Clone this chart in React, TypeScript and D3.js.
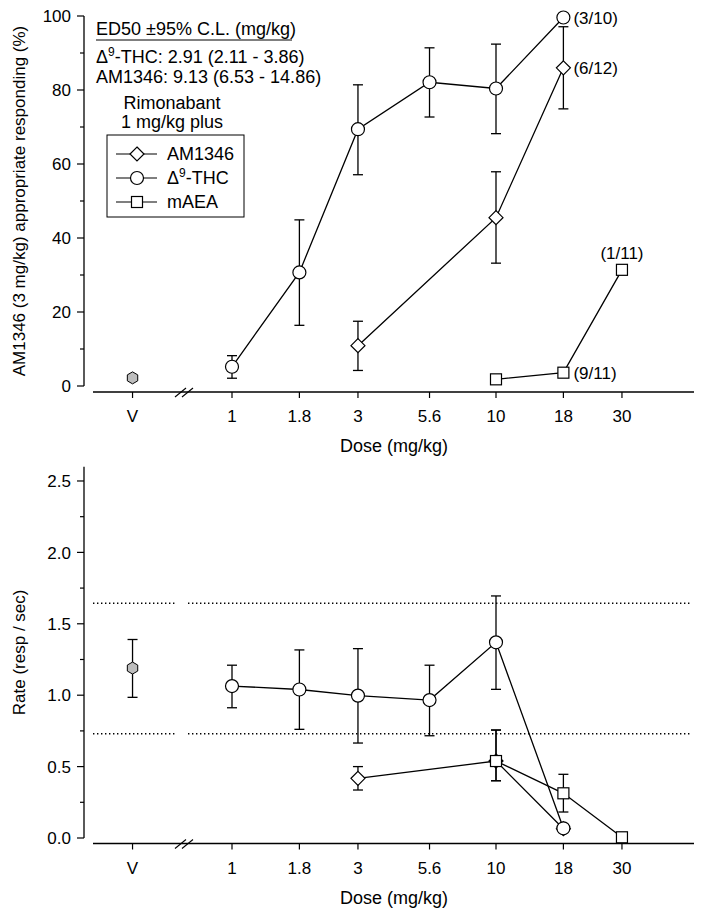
import React from "react";
import * as d3 from "d3";

// ---------- DATA ----------
const doseTicks = [1, 1.8, 3, 5.6, 10, 18, 30];
const doseTickLabels = ["1", "1.8", "3", "5.6", "10", "18", "30"];
const vehicleLabel = "V";

// Top panel: % AM1346-appropriate responding
const vehPct = { mean: 2.2, lo: 2.2, hi: 2.2 };
const thcDoses = [1, 1.8, 3, 5.6, 10, 18];
const thcPct = [5.2, 30.7, 69.4, 82.1, 80.4, 99.6];
const thcPctLo = [2.1, 16.4, 57.1, 72.7, 68.2, 99.6];
const thcPctHi = [8.2, 44.9, 81.4, 91.4, 92.4, 99.6];

const amDoses = [3, 10, 18];
const amPct = [10.9, 45.5, 86.0];
const amPctLo = [4.2, 33.2, 74.9];
const amPctHi = [17.5, 57.9, 97.1];

const maeaDoses = [10, 18, 30];
const maeaPct = [1.8, 3.6, 31.4];
const maeaPctLo = [1.8, 2.4, 31.4];
const maeaPctHi = [1.8, 4.8, 31.4];

// Bottom panel: rate (resp/sec)
const vehRate = { mean: 1.19, lo: 0.985, hi: 1.39 };
const thcRate = [1.064, 1.04, 0.997, 0.966, 1.37, 0.068];
const thcRateLo = [0.912, 0.761, 0.665, 0.716, 1.041, 0.068];
const thcRateHi = [1.21, 1.317, 1.326, 1.21, 1.695, 0.068];

const amRate = [0.418, 0.539, 0.065];
const amRateLo = [0.336, 0.401, 0.065];
const amRateHi = [0.5, 0.756, 0.065];

const maeaRate = [0.539, 0.313, 0.005];
const maeaRateLo = [0.401, 0.182, 0.005];
const maeaRateHi = [0.756, 0.446, 0.005];

const rateRefLines = [1.644, 0.73];

const annotations = [
  { dose: 18, value: 99.6, text: "(3/10)", pos: "right" },
  { dose: 18, value: 86.0, text: "(6/12)", pos: "right" },
  { dose: 18, value: 3.6, text: "(9/11)", pos: "right" },
  { dose: 30, value: 31.4, text: "(1/11)", pos: "above" },
];

const pctTicks = [0, 20, 40, 60, 80, 100];
const pctMinor = [10, 30, 50, 70, 90];
const rateTicks = [0, 0.5, 1.0, 1.5, 2.0, 2.5];
const rateMinor = [0.25, 0.75, 1.25, 1.75, 2.25];

// ---------- LAYOUT ----------
const FONT = "'Liberation Sans', Arial, Helvetica, sans-serif";
const AX_X = 84;
const VEH_DOSE = 0.42; // display position of vehicle on the log axis
const TICK_FS = 17;
const TEXT_FS = 18;

const xScale = d3.scaleLog().domain([1, 10]).range([232, 496]);
const xPos = (d: number | "V") => (d === "V" ? xScale(VEH_DOSE) : xScale(d));

const yTop = d3.scaleLinear().domain([0, 100]).range([386, 16]);
const yBot = d3.scaleLinear().domain([0, 2.6]).range([838, 466.7]);

type Series = {
  doses: number[];
  mean: number[];
  lo: number[];
  hi: number[];
  marker: "circle" | "diamond" | "square";
};

function Marker({ type, x, y, fill = "#fff" }: { type: string; x: number; y: number; fill?: string }) {
  if (type === "circle") return <circle cx={x} cy={y} r={6.5} fill={fill} stroke="#000" strokeWidth={1.2} />;
  if (type === "diamond") {
    const r = 7;
    return (
      <path
        d={`M${x},${y - r}L${x + r},${y}L${x},${y + r}L${x - r},${y}Z`}
        fill={fill}
        stroke="#000"
        strokeWidth={1.2}
      />
    );
  }
  if (type === "square") {
    const s = 5.5;
    return <rect x={x - s} y={y - s} width={2 * s} height={2 * s} fill={fill} stroke="#000" strokeWidth={1.2} />;
  }
  if (type === "hex") {
    const r = 6;
    const pts = d3.range(6).map((k) => {
      const a = ((-90 + 60 * k) * Math.PI) / 180;
      return [x + r * Math.cos(a), y + r * Math.sin(a)];
    });
    return <polygon points={pts.map((p) => p.join(",")).join(" ")} fill="#bdbdbd" stroke="#000" strokeWidth={1} />;
  }
  return null;
}

function ErrBar({ x, y1, y2 }: { x: number; y1: number; y2: number }) {
  if (Math.abs(y1 - y2) < 0.5) return null;
  const c = 5;
  return (
    <g stroke="#000" strokeWidth={1.3}>
      <line x1={x} x2={x} y1={y1} y2={y2} />
      <line x1={x - c} x2={x + c} y1={y1} y2={y1} />
      <line x1={x - c} x2={x + c} y1={y2} y2={y2} />
    </g>
  );
}

function Panel({
  y,
  series,
  veh,
  ticks,
  minor,
  fmt,
  axisY,
  title,
}: {
  y: d3.ScaleLinear<number, number>;
  series: Series[];
  veh: { mean: number; lo: number; hi: number };
  ticks: number[];
  minor: number[];
  fmt: (v: number) => string;
  axisY: number;
  title: string;
}) {
  const [yMin, yMax] = y.domain();
  const line = d3
    .line<[number, number]>()
    .x((d) => xScale(d[0]))
    .y((d) => y(d[1]));
  return (
    <g>
      {/* y axis */}
      <line x1={AX_X} x2={AX_X} y1={y(yMax)} y2={y(yMin)} stroke="#000" strokeWidth={1.3} />
      {ticks.map((t) => (
        <g key={"t" + t}>
          <line x1={AX_X - 7} x2={AX_X} y1={y(t)} y2={y(t)} stroke="#000" strokeWidth={1.2} />
          <text x={71} y={y(t)} dy="0.36em" textAnchor="end" fontSize={TICK_FS} fontFamily={FONT}>
            {fmt(t)}
          </text>
        </g>
      ))}
      {minor.map((t) => (
        <line key={"m" + t} x1={AX_X - 4} x2={AX_X} y1={y(t)} y2={y(t)} stroke="#000" strokeWidth={1.2} />
      ))}
      {/* x axis */}
      <line x1={93} x2={694} y1={axisY} y2={axisY} stroke="#000" strokeWidth={1.3} />
      <g stroke="#000" strokeWidth={1.1}>
        <line x1={175} y1={axisY + 5} x2={186} y2={axisY - 4} />
        <line x1={182} y1={axisY + 5} x2={193} y2={axisY - 4} />
      </g>
      {[...doseTicks.map((d) => xPos(d)), xPos("V")].map((x, i) => (
        <line key={"xt" + i} x1={x} x2={x} y1={axisY} y2={axisY + 6} stroke="#000" strokeWidth={1.2} />
      ))}
      <text x={xPos("V")} y={axisY + 24} dy="0.36em" textAnchor="middle" fontSize={TICK_FS} fontFamily={FONT}>
        {vehicleLabel}
      </text>
      {doseTicks.map((d, i) => (
        <text
          key={"xl" + d}
          x={xPos(d)}
          y={axisY + 24}
          dy="0.36em"
          textAnchor="middle"
          fontSize={TICK_FS}
          fontFamily={FONT}
        >
          {doseTickLabels[i]}
        </text>
      ))}
      <text x={394} y={axisY + 54} dy="0.36em" textAnchor="middle" fontSize={TEXT_FS} fontFamily={FONT}>
        Dose (mg/kg)
      </text>
      <text
        transform={`translate(19,${(y(yMax) + y(yMin)) / 2}) rotate(-90)`}
        textAnchor="middle"
        dy="0.36em"
        fontSize={TICK_FS}
        fontFamily={FONT}
      >
        {title}
      </text>
      {/* vehicle */}
      <ErrBar x={xPos("V")} y1={y(veh.hi)} y2={y(veh.lo)} />
      <Marker type="hex" x={xPos("V")} y={y(veh.mean)} />
      {/* series lines */}
      {series.map((s, i) => (
        <path
          key={"l" + i}
          d={line(s.doses.map((d, j) => [d, s.mean[j]] as [number, number])) || ""}
          fill="none"
          stroke="#000"
          strokeWidth={1.3}
        />
      ))}
      {series.map((s, i) => (
        <g key={"e" + i}>
          {s.doses.map((d, j) => (
            <ErrBar key={j} x={xScale(d)} y1={y(s.hi[j])} y2={y(s.lo[j])} />
          ))}
        </g>
      ))}
      {series.map((s, i) => (
        <g key={"mk" + i}>
          {s.doses.map((d, j) => (
            <Marker key={j} type={s.marker} x={xScale(d)} y={y(s.mean[j])} />
          ))}
        </g>
      ))}
    </g>
  );
}

function Dotted({ y }: { y: number }) {
  return (
    <g stroke="#000" strokeWidth={1.4} strokeDasharray="1.4,2.6">
      <line x1={93} x2={176} y1={y} y2={y} />
      <line x1={188} x2={692} y1={y} y2={y} />
    </g>
  );
}

export default function App() {
  const topSeries: Series[] = [
    { doses: amDoses, mean: amPct, lo: amPctLo, hi: amPctHi, marker: "diamond" },
    { doses: thcDoses, mean: thcPct, lo: thcPctLo, hi: thcPctHi, marker: "circle" },
    { doses: maeaDoses, mean: maeaPct, lo: maeaPctLo, hi: maeaPctHi, marker: "square" },
  ];
  const botSeries: Series[] = [
    { doses: amDoses, mean: amRate, lo: amRateLo, hi: amRateHi, marker: "diamond" },
    { doses: thcDoses, mean: thcRate, lo: thcRateLo, hi: thcRateHi, marker: "circle" },
    { doses: maeaDoses, mean: maeaRate, lo: maeaRateLo, hi: maeaRateHi, marker: "square" },
  ];
  const legendItems = [
    { marker: "diamond", label: <tspan>AM1346</tspan> },
    {
      marker: "circle",
      label: (
        <>
          <tspan>Δ</tspan>
          <tspan dy={-7} fontSize={12}>9</tspan>
          <tspan dy={7}>-THC</tspan>
        </>
      ),
    },
    { marker: "square", label: <tspan>mAEA</tspan> },
  ];
  return (
    <svg width={704} height={916} style={{ position: "absolute", left: 0, top: 0, background: "#fff" }}>
      <rect width={704} height={916} fill="#fff" />
      {rateRefLines.map((v) => (
        <Dotted key={v} y={yBot(v)} />
      ))}
      <Panel
        y={yTop}
        series={topSeries}
        veh={vehPct}
        ticks={pctTicks}
        minor={pctMinor}
        fmt={(v) => String(v)}
        axisY={392}
        title="AM1346 (3 mg/kg) appropriate responding (%)"
      />
      <Panel
        y={yBot}
        series={botSeries}
        veh={vehRate}
        ticks={rateTicks}
        minor={rateMinor}
        fmt={(v) => v.toFixed(1)}
        axisY={843.5}
        title="Rate (resp / sec)"
      />
      {/* annotations */}
      {annotations.map((a, i) =>
        a.pos === "right" ? (
          <text key={i} x={xScale(a.dose) + 10} y={yTop(a.value)} dy="0.36em" fontSize={TICK_FS} fontFamily={FONT}>
            {a.text}
          </text>
        ) : (
          <text
            key={i}
            x={xScale(a.dose)}
            y={yTop(a.value) - 17}
            dy="0.36em"
            textAnchor="middle"
            fontSize={TICK_FS}
            fontFamily={FONT}
          >
            {a.text}
          </text>
        )
      )}
      {/* ED50 block */}
      <g fontFamily={FONT} fontSize={TEXT_FS}>
        <text x={96} y={29} dy="0.36em">ED50 ±95% C.L. (mg/kg)</text>
        <line x1={96} x2={292} y1={40} y2={40} stroke="#000" strokeWidth={1.2} />
        <text x={96} y={57} dy="0.36em">
          <tspan>Δ</tspan>
          <tspan dy={-7} fontSize={12}>9</tspan>
          <tspan dy={7}>-THC: 2.91 (2.11 - 3.86)</tspan>
        </text>
        <text x={96} y={77} dy="0.36em">AM1346: 9.13 (6.53 - 14.86)</text>
        <text x={172} y={103} dy="0.36em" textAnchor="middle">Rimonabant</text>
        <text x={172} y={122} dy="0.36em" textAnchor="middle">1 mg/kg plus</text>
        <rect x={107} y={135} width={137} height={82} fill="none" stroke="#000" strokeWidth={1} />
        {legendItems.map((it, i) => {
          const yy = 154 + i * 24;
          return (
            <g key={i}>
              <line x1={116} x2={157} y1={yy} y2={yy} stroke="#000" strokeWidth={1.2} />
              <Marker type={it.marker} x={137} y={yy} />
              <text x={167} y={yy} dy="0.36em">
                {it.label}
              </text>
            </g>
          );
        })}
      </g>
    </svg>
  );
}
